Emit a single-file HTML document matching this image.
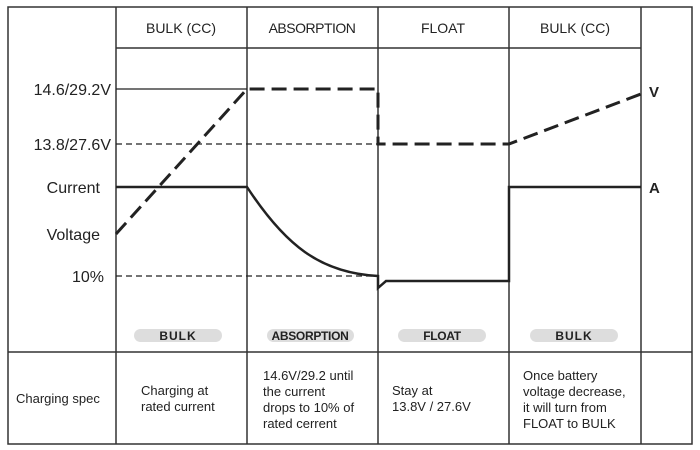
<!DOCTYPE html>
<html><head><meta charset="utf-8"><style>
body{margin:0;background:#fff}
svg{display:block}
text{font-family:"Liberation Sans",Arial,sans-serif;fill:#222}
</style></head><body>
<svg width="700" height="450" viewBox="0 0 700 450">
<g stroke="#333" stroke-width="1.5" fill="none">
<rect x="8" y="7" width="684" height="437"/>
<line x1="116" y1="7" x2="116" y2="444"/>
<line x1="247" y1="7" x2="247" y2="444"/>
<line x1="378" y1="7" x2="378" y2="444"/>
<line x1="509" y1="7" x2="509" y2="444"/>
<line x1="641" y1="7" x2="641" y2="444"/>
<line x1="116" y1="48" x2="641" y2="48"/>
<line x1="8" y1="352" x2="692" y2="352"/>
</g>
<g stroke="#222" stroke-width="1.2">
<line x1="116" y1="89" x2="247" y2="89"/>
<line x1="116" y1="144" x2="378" y2="144" stroke-dasharray="6,4"/>
<line x1="116" y1="276" x2="378" y2="276" stroke-dasharray="6,4"/>
</g>
<g stroke="#222" stroke-width="3" fill="none" stroke-dasharray="15,7">
<polyline points="116,234 247,89 378,89 378,144 509,144 641,94"/>
</g>
<g stroke="#222" stroke-width="2.5" fill="none">
<path d="M116,187 L247,187 C285,245 320,273 378,276 L378,288 L386,281 L509,281 L509,187 L641,187"/>
</g>
<g font-size="14" text-anchor="middle">
<text x="181" y="33">BULK  (CC)</text>
<text x="312" y="33" letter-spacing="-0.5">ABSORPTION</text>
<text x="443" y="33">FLOAT</text>
<text x="575" y="33">BULK  (CC)</text>
</g>
<g font-size="16" text-anchor="end">
<text x="111" y="95">14.6/29.2V</text>
<text x="111" y="150">13.8/27.6V</text>
<text x="100" y="193">Current</text>
<text x="100" y="240">Voltage</text>
<text x="104" y="282">10%</text>
</g>
<text x="649" y="97" font-size="15" font-weight="bold">V</text>
<text x="649" y="193" font-size="15" font-weight="bold">A</text>
<g fill="#ddd">
<rect x="134" y="329" width="88" height="13" rx="6.5"/>
<rect x="267" y="329" width="87" height="13" rx="6.5"/>
<rect x="398" y="329" width="88" height="13" rx="6.5"/>
<rect x="530" y="329" width="88" height="13" rx="6.5"/>
</g>
<g font-size="12" font-weight="bold" text-anchor="middle">
<text x="178" y="340" letter-spacing="1">BULK</text>
<text x="310" y="340" letter-spacing="-0.3">ABSORPTION</text>
<text x="442" y="340" letter-spacing="-0.3">FLOAT</text>
<text x="574" y="340" letter-spacing="1">BULK</text>
</g>
<g font-size="13">
<text x="16" y="403">Charging spec</text>
<text x="141" y="395">Charging at</text>
<text x="141" y="411">rated current</text>
<text x="263" y="380">14.6V/29.2 until</text>
<text x="263" y="396">the current</text>
<text x="263" y="412">drops to 10% of</text>
<text x="263" y="428">rated cerrent</text>
<text x="392" y="395">Stay at</text>
<text x="392" y="411">13.8V / 27.6V</text>
<text x="523" y="380">Once battery</text>
<text x="523" y="396">voltage decrease,</text>
<text x="523" y="412">it will turn from</text>
<text x="523" y="428">FLOAT to BULK</text>
</g>
</svg>
</body></html>
